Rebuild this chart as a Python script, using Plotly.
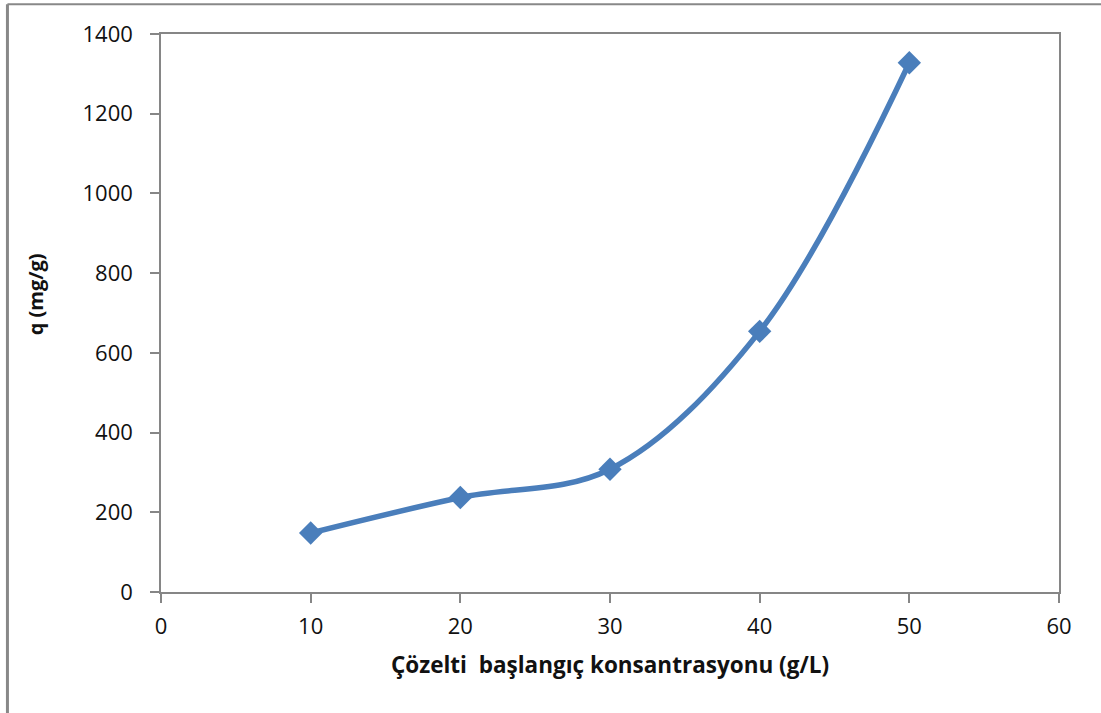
import plotly.graph_objects as go

# Initial solution concentration (g/L) and adsorption capacity q (mg/g)
concentration = [10, 20, 30, 40, 50]
q_values = [148, 237, 308, 654, 1328]

x_ticks = [0, 10, 20, 30, 40, 50, 60]
y_ticks = [0, 200, 400, 600, 800, 1000, 1200, 1400]

line_color = "#4A7EBB"
axis_color = "#868686"
font_family = "Open Sans, Lato, sans-serif"

fig = go.Figure()
fig.add_trace(go.Scatter(
    x=concentration,
    y=q_values,
    mode="lines+markers",
    line=dict(color=line_color, width=5.5, shape="spline", smoothing=1.0),
    marker=dict(symbol="diamond", size=18, color=line_color),
    showlegend=False,
))

axis_common = dict(
    showgrid=False,
    zeroline=False,
    showline=True,
    linecolor=axis_color,
    linewidth=1.5,
    mirror=True,
    ticks="outside",
    ticklen=9,
    tickwidth=1.5,
    tickcolor=axis_color,
    tickfont=dict(family=font_family, size=22, color="#111111"),
)

fig.update_xaxes(
    range=[0, 60],
    tickvals=x_ticks,
    ticktext=[str(v) for v in x_ticks],
    ticklabelstandoff=5,
    title=dict(text="<b>Çözelti  başlangıç konsantrasyonu (g/L)</b>",
               font=dict(family=font_family, size=22.5, color="#111111"),
               standoff=18),
    **axis_common,
)
fig.update_yaxes(
    range=[0, 1400],
    tickvals=y_ticks,
    ticktext=[str(v) for v in y_ticks],
    ticklabelstandoff=13,
    **axis_common,
)

# Y axis title placed as a rotated annotation
fig.add_annotation(
    text="<b>q (mg/g)</b>",
    xref="paper", yref="paper",
    x=-0.1403, y=0.5336,
    xanchor="center", yanchor="middle",
    textangle=-90,
    showarrow=False,
    font=dict(family=font_family, size=20, color="#111111"),
)

# Outer frame lines (left and top edges of the chart area)
fig.add_shape(type="line", xref="paper", yref="paper",
              x0=-0.171, x1=-0.171, y0=-0.3, y1=1.0533,
              line=dict(color="#888888", width=3))
fig.add_shape(type="line", xref="paper", yref="paper",
              x0=-0.171, x1=1.1, y0=1.0533, y1=1.0533,
              line=dict(color="#888888", width=2))

fig.update_layout(
    width=1101,
    height=713,
    margin=dict(l=161, r=42, t=34, b=121),
    paper_bgcolor="white",
    plot_bgcolor="white",
    font=dict(family=font_family),
)

fig.write_html("out.html")
